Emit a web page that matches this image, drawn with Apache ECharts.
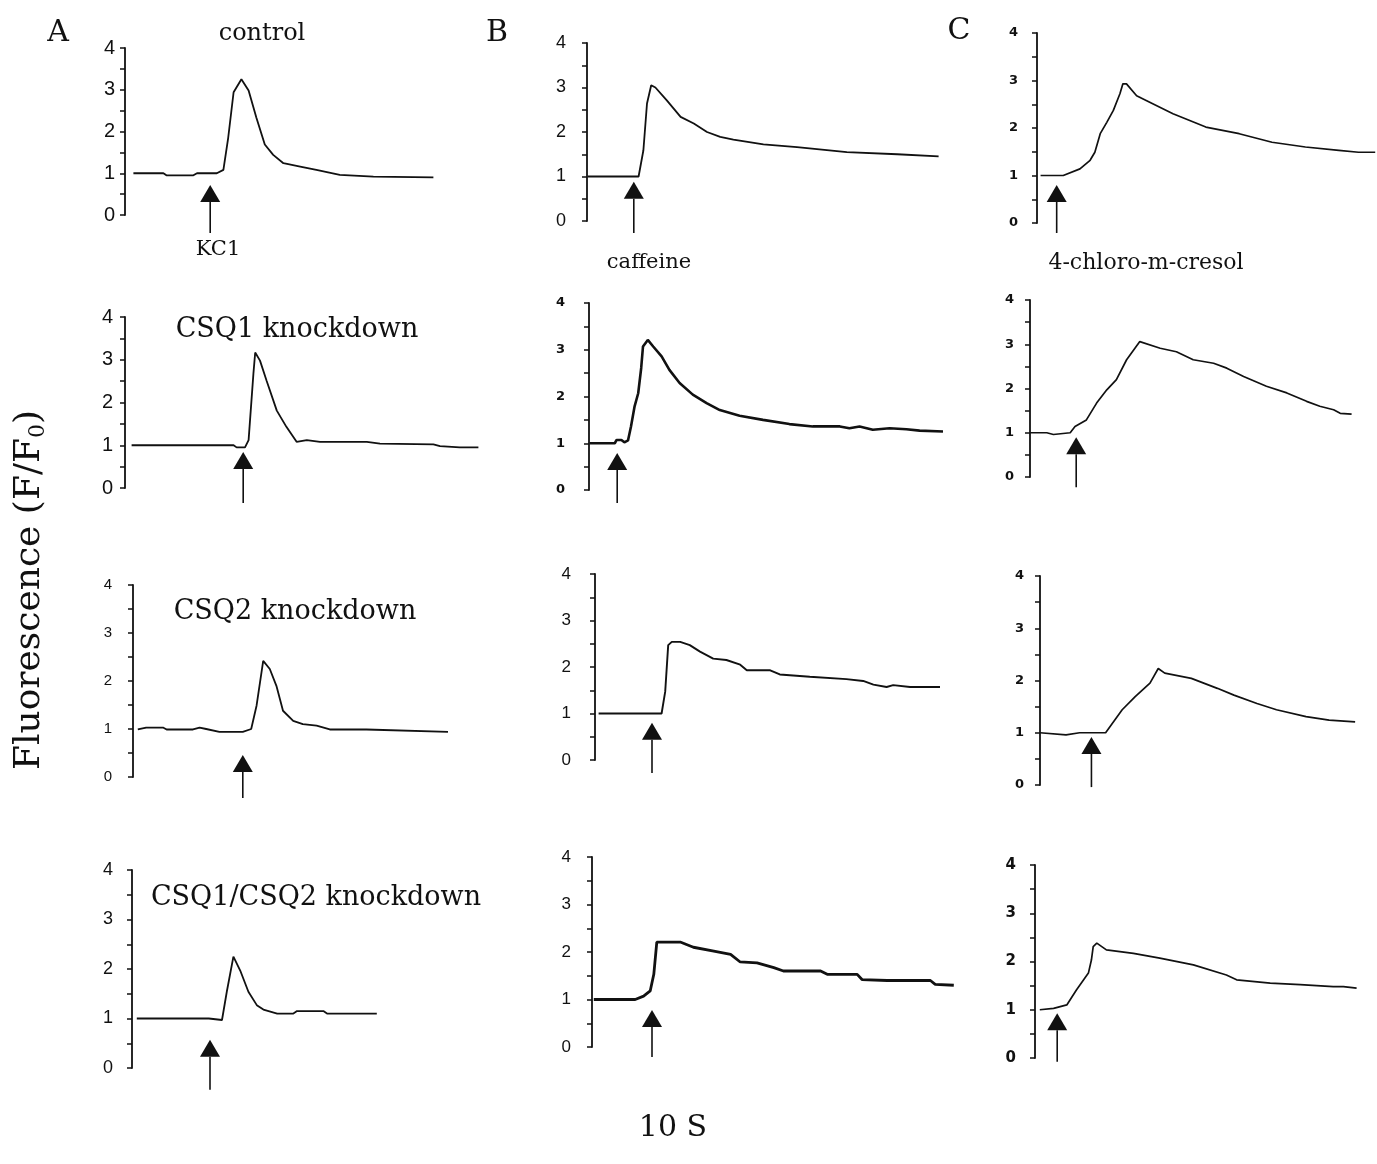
<!DOCTYPE html>
<html>
<head>
<meta charset="utf-8">
<script src="https://cdn.jsdelivr.net/npm/echarts@6/dist/echarts.min.js"></script>
<style>
  html, body { margin: 0; background: #fff; }
  #chart { width: 1377px; height: 1164px; }
</style>
</head>
<body>
<div id="chart"></div>
<script>
// traces: [time (s), F/F0]
// column A - KCl
const kclControl = [[1.4,1.0],[6.4,1.0],[6.9,0.95],[11.4,0.95],[12.0,1.0],[15.3,1.0],[16.4,1.08],[17.2,1.85],[18.1,2.94],[19.4,3.25],[20.6,2.98],[21.9,2.33],[23.3,1.69],[24.7,1.44],[26.4,1.24],[29.2,1.16],[31.9,1.08],[35.8,0.96],[41.4,0.92],[51.4,0.9]];
const kclCsq1 = [[1.1,1.0],[18.1,1.0],[18.6,0.95],[20.0,0.95],[20.6,1.12],[21.4,2.67],[21.7,3.17],[22.5,2.98],[23.6,2.51],[25.3,1.81],[26.9,1.43],[28.6,1.08],[30.3,1.12],[32.5,1.08],[40.3,1.08],[42.5,1.04],[51.4,1.02],[52.5,0.98],[55.8,0.95],[58.9,0.95]];
const kclCsq2 = [[0.8,0.99],[2.2,1.03],[5.0,1.03],[5.6,0.99],[10.0,0.99],[11.1,1.03],[12.2,1.0],[14.4,0.94],[18.3,0.94],[19.7,1.0],[20.6,1.49],[21.7,2.42],[22.8,2.25],[23.9,1.9],[25.0,1.38],[26.7,1.17],[28.3,1.1],[30.6,1.07],[32.8,0.99],[38.9,0.99],[52.5,0.94]];
const kclDouble = [[0.8,1.0],[12.8,1.0],[13.1,0.97],[15.0,0.97],[15.8,1.54],[16.9,2.25],[18.1,1.95],[19.4,1.54],[20.8,1.27],[21.9,1.18],[24.2,1.1],[26.9,1.1],[27.5,1.15],[31.9,1.15],[32.5,1.1],[40.8,1.1]];
// column B - caffeine
const cafControl = [[0.1,1.0],[8.6,1.0],[9.4,1.59],[10.0,2.64],[10.7,3.05],[11.4,3.0],[13.3,2.71],[15.6,2.34],[17.8,2.19],[20.0,2.0],[22.2,1.89],[24.4,1.83],[29.4,1.72],[35.0,1.66],[43.3,1.55],[51.7,1.5],[58.6,1.45]];
const cafCsq1 = [[0.1,1.0],[4.3,1.0],[4.6,1.07],[5.4,1.07],[5.9,1.02],[6.5,1.06],[7.0,1.36],[7.6,1.79],[8.2,2.07],[8.7,2.61],[9.0,3.07],[9.8,3.21],[10.7,3.07],[12.1,2.86],[13.4,2.57],[15.1,2.29],[17.3,2.04],[19.6,1.86],[21.8,1.71],[25.1,1.59],[29.0,1.5],[33.4,1.41],[37.3,1.36],[41.8,1.36],[43.4,1.32],[45.1,1.36],[47.3,1.29],[50.1,1.32],[52.9,1.3],[55.1,1.27],[59.0,1.25]];
const cafCsq2 = [[0.6,1.0],[11.1,1.0],[11.7,1.47],[12.2,2.47],[12.8,2.54],[14.2,2.54],[15.8,2.47],[17.5,2.33],[19.7,2.18],[21.9,2.15],[24.2,2.05],[25.3,1.93],[29.2,1.93],[30.8,1.84],[35.8,1.79],[41.9,1.74],[44.7,1.7],[46.4,1.62],[48.6,1.57],[49.7,1.61],[52.5,1.57],[57.5,1.57]];
const cafDouble = [[0.3,1.0],[7.2,1.0],[8.6,1.07],[9.7,1.18],[10.3,1.53],[10.8,2.21],[14.7,2.21],[16.9,2.1],[20.3,2.02],[23.1,1.95],[24.7,1.79],[27.5,1.77],[30.3,1.67],[31.9,1.6],[38.1,1.6],[39.2,1.53],[44.2,1.53],[45.0,1.42],[49.2,1.4],[56.4,1.4],[57.2,1.32],[60.3,1.3]];
// column C - 4-chloro-m-cresol
const cmcControl = [[0.6,1.0],[4.4,1.0],[7.2,1.14],[8.9,1.32],[9.7,1.49],[10.6,1.88],[11.7,2.12],[12.8,2.37],[13.9,2.72],[14.4,2.93],[15.0,2.93],[16.7,2.68],[18.3,2.58],[22.8,2.3],[28.3,2.02],[33.9,1.88],[39.4,1.7],[45.0,1.6],[50.6,1.53],[53.9,1.49],[56.7,1.49]];
const cmcCsq1 = [[0,1.0],[2.8,1.0],[3.9,0.96],[6.7,1.0],[7.5,1.14],[9.4,1.29],[11.1,1.67],[12.8,1.97],[14.4,2.2],[16.1,2.65],[18.3,3.06],[21.7,2.91],[24.4,2.83],[27.2,2.65],[30.6,2.57],[32.8,2.46],[35.6,2.27],[39.4,2.05],[42.8,1.9],[46.1,1.71],[48.3,1.6],[50.6,1.52],[51.7,1.44],[53.6,1.42]];
const cmcCsq2 = [[0,1.0],[4.4,0.96],[6.7,1.0],[11.1,1.0],[13.9,1.44],[16.1,1.69],[18.6,1.95],[20.0,2.23],[21.1,2.14],[25.6,2.04],[30.0,1.85],[32.8,1.72],[36.7,1.56],[40.0,1.44],[45.0,1.31],[48.9,1.24],[53.3,1.21]];
const cmcDouble = [[0.8,1.0],[3.1,1.03],[5.3,1.1],[6.9,1.41],[8.9,1.76],[9.4,2.03],[9.7,2.31],[10.3,2.38],[11.9,2.24],[16.4,2.17],[20.8,2.07],[26.4,1.93],[31.9,1.72],[33.6,1.62],[39.2,1.55],[44.2,1.52],[49.7,1.48],[51.4,1.48],[53.6,1.45]];

// stimulus arrows: [time, tip F/F0, tail F/F0]
const stimA = [[14.2,0.72,-0.43],[19.7,0.84,-0.35],[18.3,0.46,-0.44],[13.0,0.57,-0.44]];
const stimB = [[7.8,0.88,-0.27],[4.7,0.79,-0.28],[9.5,0.8,-0.28],[10.0,0.78,-0.21]];
const stimC = [[3.3,0.8,-0.21],[7.7,0.9,-0.23],[8.7,0.92,-0.04],[3.7,0.93,-0.08]];

const yTickLabels = [0, 1, 2, 3, 4];

const PX_PER_S = 6;
const serif = "'DejaVu Serif', 'Liberation Serif', serif";
const sansA = "'Liberation Sans Narrow', 'Liberation Sans', Arial, sans-serif";
const sansB = "'Liberation Sans', Arial, sans-serif";
const sansC = "'DejaVu Sans', Verdana, sans-serif";

const panels = [
  { data: kclControl, stim: stimA[0], left: 125, top: 48, height: 167, xMax: 59, margin: 10, fs: 20, ff: sansA, fw: 'normal', lw: 1.8 },
  { data: kclCsq1, stim: stimA[1], left: 125, top: 317, height: 171, xMax: 59, margin: 12, fs: 20, ff: sansA, fw: 'normal', lw: 1.8 },
  { data: kclCsq2, stim: stimA[2], left: 133, top: 585, height: 192, xMax: 59, margin: 21, fs: 15, ff: sansB, fw: 'normal', lw: 1.8 },
  { data: kclDouble, stim: stimA[3], left: 132, top: 870, height: 198, xMax: 59, margin: 19, fs: 18, ff: sansA, fw: 'normal', lw: 1.8 },
  { data: cafControl, stim: stimB[0], left: 587, top: 43, height: 178, xMax: 61, margin: 21, fs: 18, ff: sansB, fw: 'normal', lw: 1.8 },
  { data: cafCsq1, stim: stimB[1], left: 589, top: 303, height: 187, xMax: 61, margin: 24, fs: 13, ff: sansC, fw: 'bold', lw: 2.6 },
  { data: cafCsq2, stim: stimB[2], left: 595, top: 574, height: 186, xMax: 61, margin: 24, fs: 17, ff: sansB, fw: 'normal', lw: 1.9 },
  { data: cafDouble, stim: stimB[3], left: 592, top: 857, height: 190, xMax: 61, margin: 21, fs: 17, ff: sansB, fw: 'normal', lw: 2.8 },
  { data: cmcControl, stim: stimC[0], left: 1037, top: 33, height: 190, xMax: 57, margin: 19, fs: 13, ff: sansC, fw: 'bold', lw: 1.7 },
  { data: cmcCsq1, stim: stimC[1], left: 1030, top: 300, height: 177, xMax: 57, margin: 16, fs: 13, ff: sansC, fw: 'bold', lw: 1.7 },
  { data: cmcCsq2, stim: stimC[2], left: 1040, top: 576, height: 209, xMax: 57, margin: 16, fs: 13, ff: sansC, fw: 'bold', lw: 1.7 },
  { data: cmcDouble, stim: stimC[3], left: 1035, top: 865, height: 193, xMax: 57, margin: 19, fs: 15, ff: sansC, fw: 'bold', lw: 1.7 }
];

function label(text, x, y, size, extra) {
  return {
    type: 'text', x: x, y: y, silent: true,
    style: Object.assign({ text: text, fill: '#111', font: size + 'px ' + serif, align: 'center', verticalAlign: 'middle' }, extra || {})
  };
}

function arrowItem(params, api) {
  const tip = api.coord([api.value(0), api.value(1)]);
  const tail = api.coord([api.value(0), api.value(2)]);
  const hw = 10, hh = 17;
  return {
    type: 'group',
    children: [
      { type: 'line', shape: { x1: tip[0], y1: tip[1] + hh, x2: tail[0], y2: tail[1] }, style: { stroke: '#111', lineWidth: 1.6 } },
      { type: 'polygon', shape: { points: [[tip[0], tip[1]], [tip[0] - hw, tip[1] + hh], [tip[0] + hw, tip[1] + hh]] }, style: { fill: '#111' } }
    ]
  };
}

const chart = echarts.init(document.getElementById('chart'));

const option = {
  animation: false,
  backgroundColor: '#fff',
  grid: panels.map(p => ({ left: p.left, top: p.top, width: p.xMax * PX_PER_S, height: p.height })),
  xAxis: panels.map((p, i) => ({ type: 'value', gridIndex: i, min: 0, max: p.xMax, show: false })),
  yAxis: panels.map((p, i) => ({
    type: 'value', gridIndex: i, min: 0, max: 4, interval: 0.5,
    axisLine: { show: true, lineStyle: { color: '#111', width: 1.8 } },
    axisTick: { show: true, length: 5, lineStyle: { color: '#111', width: 1.5 } },
    splitLine: { show: false },
    axisLabel: {
      margin: p.margin, color: '#111', fontSize: p.fs, fontFamily: p.ff, fontWeight: p.fw,
      formatter: v => (yTickLabels.indexOf(v) >= 0 ? String(v) : '')
    }
  })),
  series: panels.map((p, i) => ({
    type: 'line', xAxisIndex: i, yAxisIndex: i, data: p.data,
    showSymbol: false, clip: false,
    lineStyle: { color: '#111', width: p.lw }
  })).concat(panels.map((p, i) => ({
    type: 'custom', xAxisIndex: i, yAxisIndex: i, data: [p.stim],
    renderItem: arrowItem, clip: false, silent: true
  }))),
  graphic: [
    label('A', 58, 33, 30),
    label('B', 497, 33, 30),
    label('C', 959, 31, 30),
    label('control', 262, 34, 24),
    label('KC1', 218, 250, 21),
    label('caffeine', 649, 263, 21),
    label('4-chloro-m-cresol', 1146, 263, 22),
    label('CSQ1 knockdown', 297, 330, 27),
    label('CSQ2 knockdown', 295, 612, 27),
    label('CSQ1/CSQ2 knockdown', 316, 898, 27),
    label('10 S', 673, 1128, 30),
    {
      type: 'text', x: 30, y: 590, rotation: Math.PI / 2, silent: true,
      style: {
        text: 'Fluorescence (F/F{sub|0})', fill: '#111', font: '36px ' + serif,
        align: 'center', verticalAlign: 'middle',
        rich: { sub: { font: '22px ' + serif, verticalAlign: 'bottom', padding: [16, 0, 0, 0] } }
      }
    }
  ]
};

chart.setOption(option);
</script>
</body>
</html>
